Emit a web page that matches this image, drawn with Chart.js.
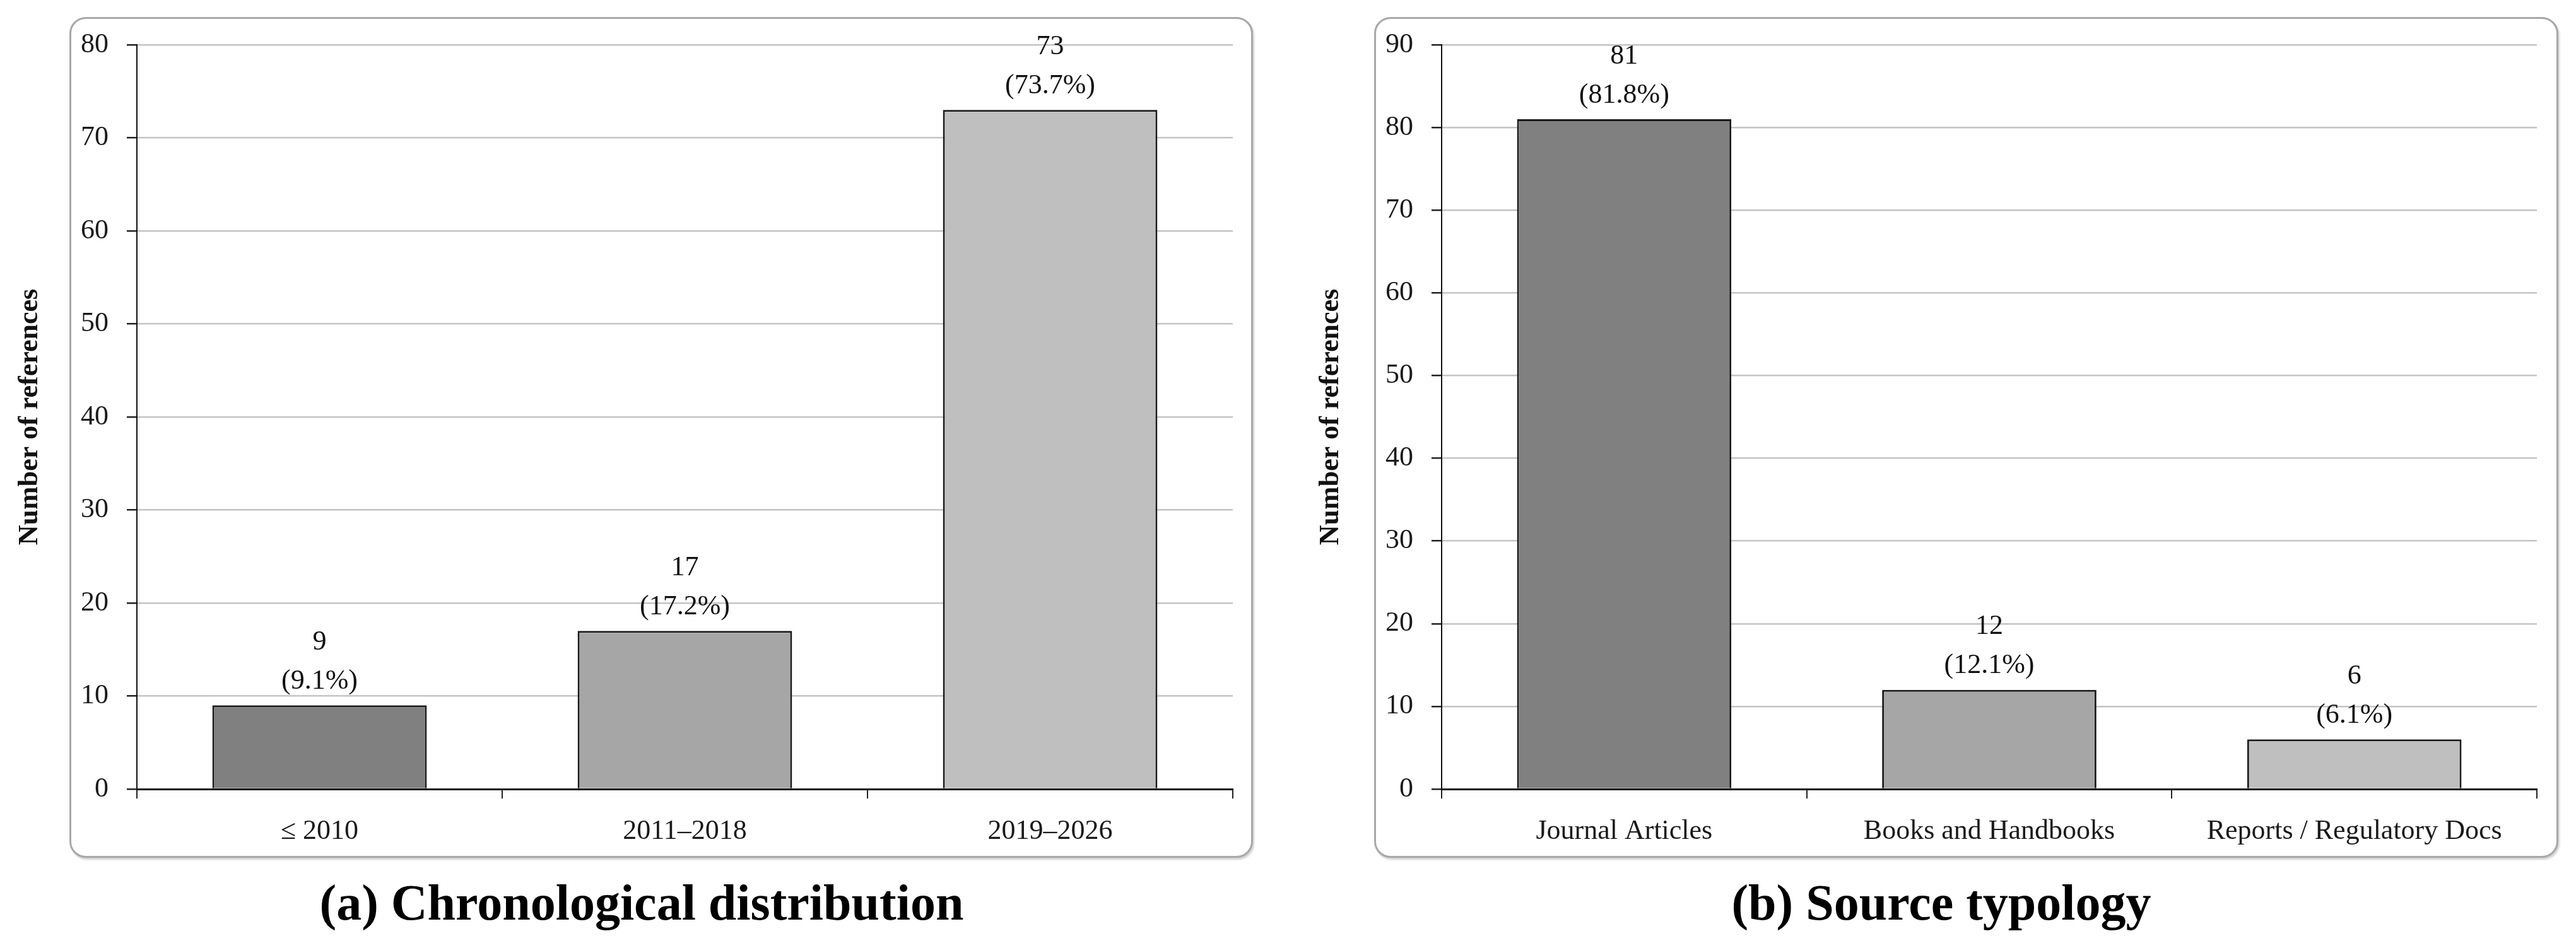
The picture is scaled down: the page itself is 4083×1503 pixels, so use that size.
<!DOCTYPE html>
<html>
<head>
<meta charset="utf-8">
<script src="https://cdn.jsdelivr.net/npm/chart.js@4.4.1/dist/chart.umd.min.js"></script>
<style>
    body { margin: 0; background: #fff; width: 4083px; height: 1503px; position: relative; overflow: hidden; }
    .panel { position: absolute; top: 27px; height: 1333px; border: 3px solid #a8a8a8; border-radius: 26px;
             box-shadow: 2px 3px 3px rgba(0,0,0,0.18); box-sizing: border-box; background: #fff; }
    canvas { position: absolute; top: 0; }
    .caption { position: absolute; top: 1391px; font: bold 80px "Liberation Serif", serif; line-height: 80px;
               color: #000; text-align: center; white-space: nowrap; }
</style>
</head>
<body>
<div class="panel" style="left:110px; width:1876px;"></div>
<div class="panel" style="left:2178px; width:1877px;"></div>
<canvas id="ChronoCanvas" width="2000" height="1370" style="left:0px;"></canvas>
<canvas id="TypeCanvas" width="2033" height="1370" style="left:2050px;"></canvas>
<div class="caption" style="left:17px; width:2000px;">(a) Chronological distribution</div>
<div class="caption" style="left:2077px; width:2000px;">(b) Source typology</div>

<script>
// ---------------------- DATA

const chronoLabels = ["\u2264 2010", "2011\u20132018", "2019\u20132026"];
const chronoCounts = [9, 17, 73];
const chronoShares = [9.1, 17.2, 73.7];
const chronoTicksMax = 80;

const typeLabels = ["Journal Articles", "Books and Handbooks", "Reports / Regulatory Docs"];
const typeCounts = [81, 12, 6];
const typeShares = [81.8, 12.1, 6.1];
const typeTicksMax = 90;

const BAR_COLORS = ['#808080', '#a6a6a6', '#bfbfbf'];

Chart.defaults.font.family = '"Liberation Serif", serif';
Chart.defaults.font.size = 44;
Chart.defaults.color = '#1a1a1a';

// ---------------------- PLUGINS

// value on the first line, share in brackets on the second
const barValueLabels = {
    id: 'barValueLabels',
    afterDatasetsDraw(chart, args, opts) {
        const ctx = chart.ctx;
        const meta = chart.getDatasetMeta(0);
        ctx.save();
        ctx.font = '44px "Liberation Serif", serif';
        ctx.fillStyle = '#111';
        ctx.textAlign = 'center';
        ctx.textBaseline = 'middle';
        meta.data.forEach((bar, i) => {
            ctx.fillText(`${chart.data.datasets[0].data[i]}`, bar.x, bar.y - 100);
            ctx.fillText(`(${opts.shares[i].toFixed(1)}%)`, bar.x, bar.y - 38);
        });
        ctx.restore();
    }
};

// ---------------------- FUNCTIONS

function plotBars(canvasId, labels, counts, shares, maxY, axisWidth, titlePad, rightPad) {
    return new Chart(document.getElementById(canvasId).getContext("2d"), {
        type: 'bar',
        data: {
            labels: labels,
            datasets: [{
                data: counts,
                backgroundColor: BAR_COLORS,
                borderColor: '#1a1a1a',
                borderWidth: 3,
                barPercentage: 1,
                categoryPercentage: 0.587
            }]
        },
        options: {
            responsive: false,
            animation: false,
            devicePixelRatio: 1,
            layout: { padding: { top: 71, right: rightPad, bottom: 0, left: 0 } },
            plugins: {
                legend: { display: false },
                tooltip: { enabled: false },
                barValueLabels: { shares: shares }
            },
            scales: {
                x: {
                    grid: { display: true, drawOnChartArea: false, offset: true, tickLength: 15, tickColor: '#222', lineWidth: 2 },
                    border: { color: '#111', width: 3 },
                    ticks: { padding: 26, color: '#1a1a1a', maxRotation: 0 },
                    afterFit: scale => { scale.height = 119; }
                },
                y: {
                    min: 0,
                    max: maxY,
                    ticks: { stepSize: 10, padding: 29, color: '#1a1a1a' },
                    grid: { color: '#c4c4c4', lineWidth: 2.5, tickLength: 16, tickColor: '#222' },
                    border: { color: '#111', width: 2 },
                    title: {
                        display: true,
                        text: 'Number of references',
                        font: { size: 44, weight: 'bold' },
                        color: '#111',
                        padding: { top: titlePad, bottom: 0 }
                    },
                    afterFit: scale => { scale.width = axisWidth; }
                }
            }
        },
        plugins: [barValueLabels]
    });
}

// ---------------------- CALLS

plotBars("ChronoCanvas", chronoLabels, chronoCounts, chronoShares, chronoTicksMax, 217, 21, 46);
plotBars("TypeCanvas", typeLabels, typeCounts, typeShares, typeTicksMax, 235, 33, 62);
</script>
</body>
</html>
